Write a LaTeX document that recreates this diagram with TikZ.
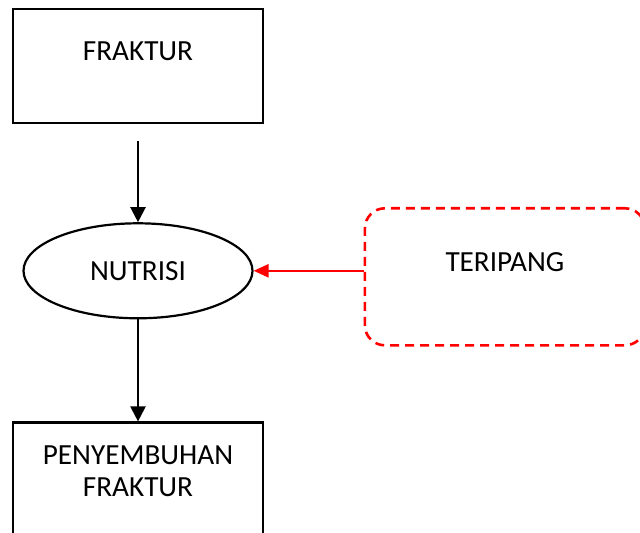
\documentclass[tikz,border=0pt]{standalone}
\usepackage{fontspec}
\setmainfont{Carlito}
\usetikzlibrary{arrows.meta,positioning,shapes.geometric}

\begin{document}
\begin{tikzpicture}[
  x=0.5pt, y=-0.5pt,
  every node/.style={align=center, font=\fontsize{14.6}{16}\selectfont},
  box/.style={draw, line width=1.2pt, minimum width=125pt, minimum height=57pt,
              text height=10pt, text depth=15pt},
  oval/.style={draw, ellipse, line width=1.1pt, minimum width=114.5pt, minimum height=47.5pt},
  redbox/.style={draw=red, line width=1.3pt, dash pattern=on 4.5pt off 3pt,
                 rounded corners=10pt, minimum width=140pt, minimum height=68.5pt,
                 text height=10pt, text depth=15.5pt},
  arr/.style={-{Triangle[length=7.5pt, width=7.5pt]}, line width=1.1pt},
  redarr/.style={-{Triangle[length=7.5pt, width=6.5pt]}, draw=red, fill=red, line width=1.2pt}
]
\useasboundingbox (0,0) rectangle (640,533);

\node[box] (fraktur) at (138,66) {FRAKTUR};
\node[oval] (nutrisi) [below=49pt of fraktur] {NUTRISI};
\node[box, text height=26pt, text depth=9pt] (sembuh) [below=51pt of nutrisi] {PENYEMBUHAN\\FRAKTUR};
\node[redbox] (teripang) [right=55pt of nutrisi, yshift=-3pt] {TERIPANG};

\draw[arr, shorten <=8.5pt] (fraktur) -- (nutrisi);
\draw[arr] (nutrisi) -- (sembuh);
\draw[redarr] (teripang.west |- nutrisi.east) -- (nutrisi.east);
\end{tikzpicture}
\end{document}
